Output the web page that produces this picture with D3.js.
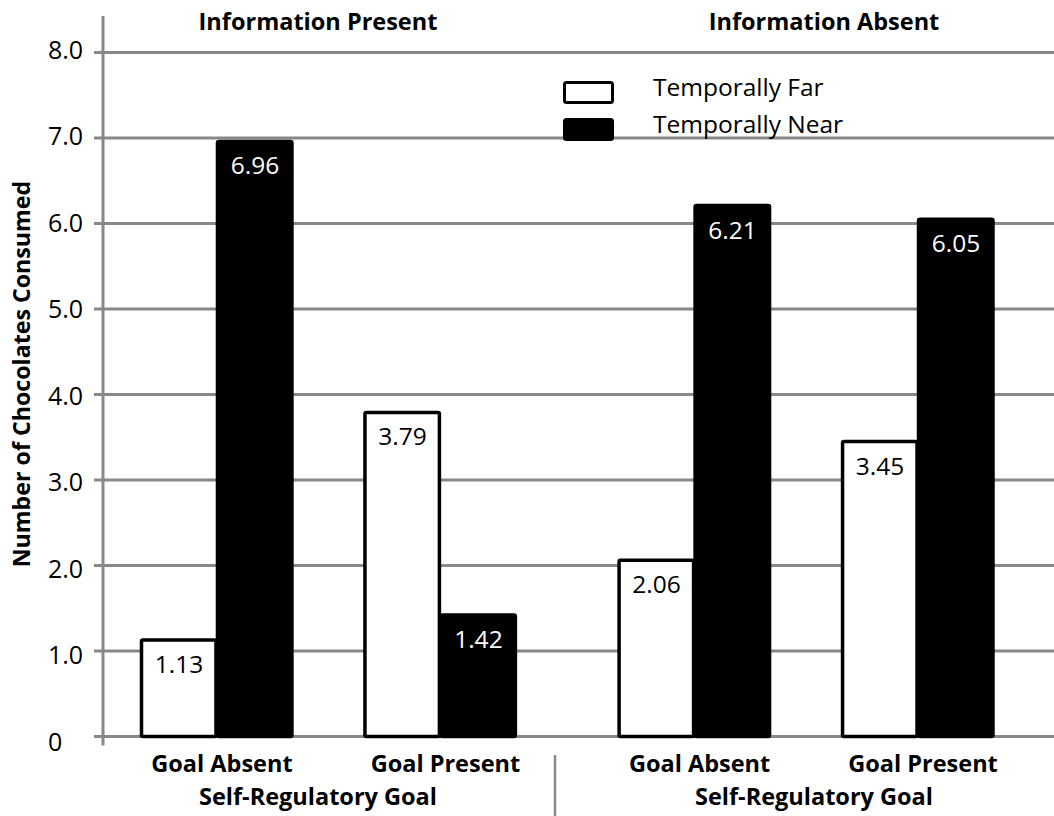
<!DOCTYPE html>
<html>
<head>
<meta charset="utf-8">
<script src="https://cdn.jsdelivr.net/npm/d3@7"></script>
<style>
  html, body { margin: 0; padding: 0; background: #fff; }
  svg { display: block; }
  text { font-family: "Open Sans", "DejaVu Sans", sans-serif; fill: #000; }
</style>
</head>
<body>
<svg id="chart" width="1054" height="816"></svg>
<script>
// Chocolates consumed by information condition, self-regulatory goal and temporal distance
const panels = ["Information Present", "Information Absent"];
const goals = ["Goal Absent", "Goal Present"];
const seriesNames = ["Temporally Far", "Temporally Near"];
// values listed panel by panel: [Goal Absent, Goal Present] for each panel
const farValues = [1.13, 3.79, 2.06, 3.45];
const nearValues = [6.96, 1.42, 6.21, 6.05];
const yTickValues = [0, 1, 2, 3, 4, 5, 6, 7, 8];
const yTickLabels = ["0", "1.0", "2.0", "3.0", "4.0", "5.0", "6.0", "7.0", "8.0"];
const xAxisTitle = "Self-Regulatory Goal";
const yAxisTitle = "Number of Chocolates Consumed";

const W = 1054, H = 816;
const svg = d3.select("#chart");
const gridColor = "#888888";

const axisX = 103;
const y = d3.scaleLinear().domain([0, 8]).range([736.5, 52.5]);

// panel -> goal cluster -> series bar
const x0 = d3.scaleBand().domain(panels).range([140, 993]).paddingInner(0.214).paddingOuter(0);
const x1 = d3.scaleBand().domain(goals).range([0, x0.bandwidth()]).paddingInner(0.32).paddingOuter(0);
const x2 = d3.scaleBand().domain(seriesNames).range([0, x1.bandwidth()]).padding(0);

const rows = [];
panels.forEach((p, pi) => {
  goals.forEach((g, gi) => {
    const i = pi * goals.length + gi;
    rows.push({ panel: p, goal: g, series: seriesNames[0], value: farValues[i] });
    rows.push({ panel: p, goal: g, series: seriesNames[1], value: nearValues[i] });
  });
});
const fillOf = s => s === seriesNames[0] ? "#ffffff" : "#000000";
const textOf = s => s === seriesNames[0] ? "#000000" : "#ffffff";
const barX = d => x0(d.panel) + x1(d.goal) + x2(d.series);

// horizontal gridlines with left tick stubs
svg.append("g").selectAll("line")
  .data(yTickValues)
  .join("line")
  .attr("x1", 94).attr("x2", W)
  .attr("y1", d => y(d)).attr("y2", d => y(d))
  .attr("stroke", gridColor).attr("stroke-width", 3);

// vertical value axis line
svg.append("line")
  .attr("x1", axisX).attr("x2", axisX)
  .attr("y1", 16).attr("y2", y(0) + 9)
  .attr("stroke", gridColor).attr("stroke-width", 3);

// tick labels (baseline drifts slightly lower toward zero)
svg.append("g").selectAll("text")
  .data(yTickValues)
  .join("text")
  .attr("x", 48)
  .attr("y", d => y(d) + 6.5 + (8 - d) * 0.95)
  .attr("font-size", 25)
  .attr("text-anchor", "start")
  .text((d, i) => yTickLabels[i]);

// bars: far (white) first, near (black) over the shared edge
const bars = svg.append("g");
bars.selectAll("rect")
  .data(rows)
  .join("rect")
  .attr("x", d => barX(d) + 1.5)
  .attr("y", d => y(d.value))
  .attr("width", x2.bandwidth() - 1.5)
  .attr("height", d => y(0) - y(d.value))
  .attr("rx", 1.5)
  .attr("fill", d => fillOf(d.series))
  .attr("stroke", "#000")
  .attr("stroke-width", 3.5);

// value labels inside the top of each bar
svg.append("g").selectAll("text")
  .data(rows)
  .join("text")
  .attr("x", d => barX(d) + x2.bandwidth() / 2 + 1)
  .attr("y", d => y(d.value) + 33)
  .attr("text-anchor", "middle")
  .attr("font-size", 24.5)
  .style("fill", d => textOf(d.series))
  .text(d => d.value.toFixed(2));

// panel titles
const panelCenters = { "Information Present": 318, "Information Absent": 824 };
svg.append("g").selectAll("text")
  .data(panels)
  .join("text")
  .attr("x", d => panelCenters[d])
  .attr("y", 30)
  .attr("text-anchor", "middle")
  .attr("font-size", 23.5)
  .attr("font-weight", "bold")
  .text(d => d);

// goal category labels
const clusters = [];
panels.forEach(p => goals.forEach(g => clusters.push({ panel: p, goal: g })));
svg.append("g").selectAll("text")
  .data(clusters)
  .join("text")
  .attr("x", d => x0(d.panel) + x1(d.goal) + x1.bandwidth() / 2 + 6)
  .attr("y", 772)
  .attr("text-anchor", "middle")
  .attr("font-size", 23.5)
  .attr("font-weight", "bold")
  .text(d => d.goal);

// axis title under each panel
const axisTitleCenters = { "Information Present": 318, "Information Absent": 814 };
svg.append("g").selectAll("text")
  .data(panels)
  .join("text")
  .attr("x", d => axisTitleCenters[d])
  .attr("y", 805)
  .attr("text-anchor", "middle")
  .attr("font-size", 23.5)
  .attr("font-weight", "bold")
  .text(xAxisTitle);

// divider between the two panels' category labels
svg.append("line")
  .attr("x1", 555).attr("x2", 555)
  .attr("y1", 755).attr("y2", 816)
  .attr("stroke", gridColor).attr("stroke-width", 2.5);

// value axis title
svg.append("text")
  .attr("transform", `translate(30, ${(180 + 568) / 2}) rotate(-90)`)
  .attr("text-anchor", "middle")
  .attr("font-size", 23.2)
  .attr("font-weight", "bold")
  .text(yAxisTitle);

// legend
const legend = svg.append("g");
const legendRows = legend.selectAll("g")
  .data(seriesNames)
  .join("g")
  .attr("transform", (d, i) => `translate(563, ${81 + i * 37})`);
legendRows.append("rect")
  .attr("x", 1.5).attr("y", 1.5)
  .attr("width", 48).attr("height", 20)
  .attr("rx", 2)
  .attr("fill", d => fillOf(d))
  .attr("stroke", "#000")
  .attr("stroke-width", 3);
legendRows.append("text")
  .attr("x", 90)
  .attr("y", 15)
  .attr("font-size", 24.5)
  .text(d => d);
</script>
</body>
</html>
